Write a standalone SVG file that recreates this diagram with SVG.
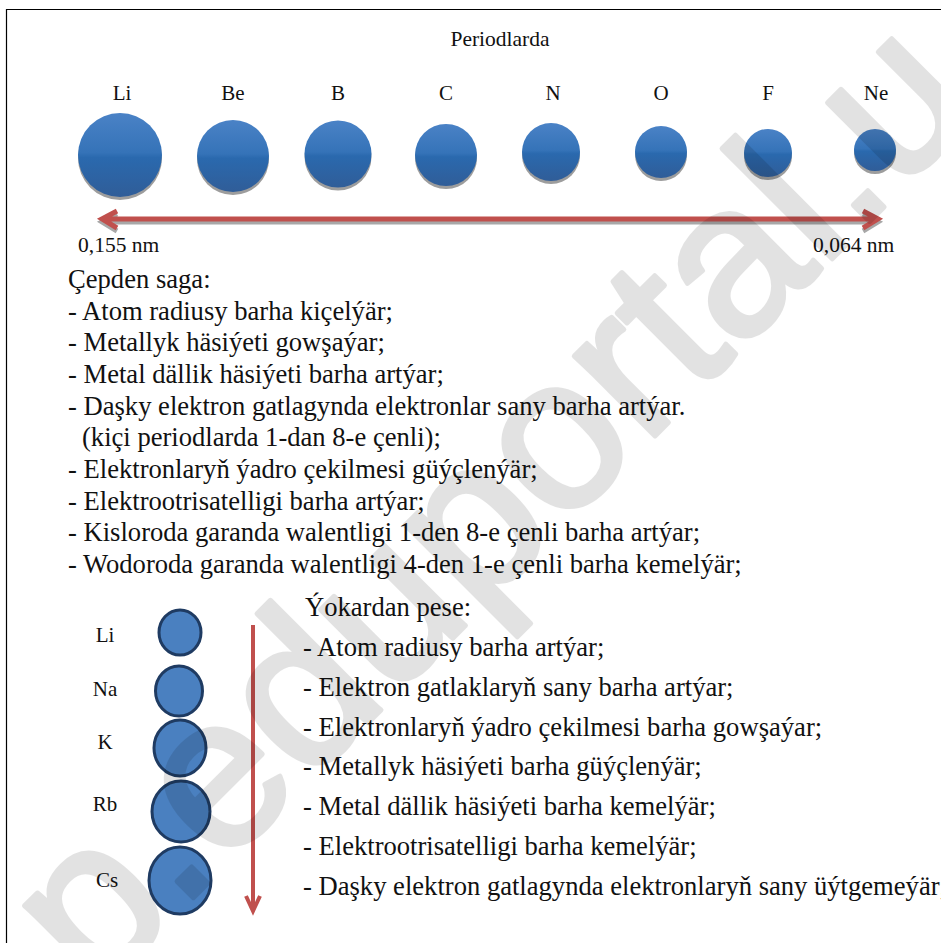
<svg xmlns="http://www.w3.org/2000/svg" width="941" height="943" viewBox="0 0 941 943">
<defs>
<linearGradient id="ball" x1="0" y1="0" x2="0" y2="1">
<stop offset="0" stop-color="#4a82c6"/>
<stop offset="0.47" stop-color="#3573b8"/>
<stop offset="0.53" stop-color="#2a69ae"/>
<stop offset="1" stop-color="#305d98"/>
</linearGradient>
<style>
.t{font-family:"Liberation Serif","Times New Roman",serif;fill:#111}
.lab{font-size:21px;text-anchor:middle}
.body{font-size:26.6px}
.ball{fill:url(#ball)}
.sh{fill:#9d9d9d}
.ring{fill:#4a80c0;stroke:#1f3b62;stroke-width:3}
.arr{fill:none;stroke:#c0504d;stroke-linecap:butt;stroke-linejoin:miter}
.arrsh{fill:none;stroke:#a8a8a8}
</style>
</defs>
<rect width="941" height="943" fill="#fff"/>
<g id="frame" fill="none" stroke="#000" stroke-width="1.2">
<path d="M6 9.5H941M6.5 9V943"/>
</g>
<text class="t" x="500" y="46" font-size="21.5" text-anchor="middle" font-family="Liberation Serif, Times New Roman, serif">Periodlarda</text>
<g id="period-row" font-family="Liberation Serif, Times New Roman, serif">
<g id="p-Li"><text class="t lab" x="122" y="100">Li</text><circle class="sh" cx="120" cy="158" r="42"/><circle class="ball" cx="120" cy="155" r="42"/></g>
<g id="p-Be"><text class="t lab" x="233" y="100">Be</text><circle class="sh" cx="233" cy="159" r="36"/><circle class="ball" cx="233" cy="156" r="36"/></g>
<g id="p-B"><text class="t lab" x="338" y="100">B</text><circle class="sh" cx="338" cy="157" r="33.5"/><circle class="ball" cx="338" cy="154" r="33.5"/></g>
<g id="p-C"><text class="t lab" x="446" y="100">C</text><circle class="sh" cx="446" cy="158" r="31"/><circle class="ball" cx="446" cy="155" r="31"/></g>
<g id="p-N"><text class="t lab" x="553" y="100">N</text><circle class="sh" cx="551" cy="155" r="29"/><circle class="ball" cx="551" cy="152" r="29"/></g>
<g id="p-O"><text class="t lab" x="661" y="100">O</text><circle class="sh" cx="661" cy="155" r="26"/><circle class="ball" cx="661" cy="152" r="26"/></g>
<g id="p-F"><text class="t lab" x="768" y="100">F</text><circle class="sh" cx="768" cy="156" r="24"/><circle class="ball" cx="768" cy="153" r="24"/></g>
<g id="p-Ne"><text class="t lab" x="876" y="100">Ne</text><circle class="sh" cx="875" cy="153" r="21"/><circle class="ball" cx="875" cy="150" r="21"/></g>
</g>
<g id="connectors">
<g id="h-arrow">
<path class="arrsh" stroke-width="5" d="M103 222H877M117 214L102 222L117 231M863 214L878 222L863 231"/>
<path class="arr" stroke-width="5" d="M103 219H877M117 211L102 219L117 228M863 211L878 219L863 228"/>
</g>
<g id="v-arrow">
<path class="arr" stroke-width="4" d="M253 625V910M246 896L253 911L260 896"/>
</g>
</g>
<text class="t" x="78" y="252" font-size="21.5" font-family="Liberation Serif, Times New Roman, serif">0,155 nm</text>
<text class="t" x="813" y="252" font-size="21.5" font-family="Liberation Serif, Times New Roman, serif">0,064 nm</text>
<g id="period-notes" class="t body" font-family="Liberation Serif, Times New Roman, serif">
<text x="68" y="288">Çepden saga:</text>
<text x="68" y="319.6">- Atom radiusy barha kiçelýär;</text>
<text x="68" y="351.3">- Metallyk häsiýeti gowşaýar;</text>
<text x="68" y="383">- Metal dällik häsiýeti barha artýar;</text>
<text x="68" y="414.6">- Daşky elektron gatlagynda elektronlar sany barha artýar.</text>
<text x="82" y="446.3">(kiçi periodlarda 1-dan 8-e çenli);</text>
<text x="68" y="478">- Elektronlaryň ýadro çekilmesi güýçlenýär;</text>
<text x="68" y="509.6">- Elektrootrisatelligi barha artýar;</text>
<text x="68" y="541.3">- Kisloroda garanda walentligi 1-den 8-e çenli barha artýar;</text>
<text x="68" y="573">- Wodoroda garanda walentligi 4-den 1-e çenli barha kemelýär;</text>
</g>
<g id="group-column" font-family="Liberation Serif, Times New Roman, serif">
<g id="g-Li"><text class="t lab" x="105" y="642">Li</text><ellipse class="ring" cx="180" cy="632.5" rx="21" ry="22.5"/></g>
<g id="g-Na"><text class="t lab" x="105" y="696">Na</text><ellipse class="ring" cx="179" cy="691" rx="23.5" ry="25"/></g>
<g id="g-K"><text class="t lab" x="105" y="749">K</text><ellipse class="ring" cx="180" cy="748" rx="26" ry="28"/></g>
<g id="g-Rb"><text class="t lab" x="105" y="811">Rb</text><ellipse class="ring" cx="181" cy="811.5" rx="29" ry="30.5"/></g>
<g id="g-Cs"><text class="t lab" x="107" y="887">Cs</text><ellipse class="ring" cx="180" cy="880.5" rx="31" ry="33.5"/></g>
</g>
<g id="group-notes" class="t body" font-family="Liberation Serif, Times New Roman, serif">
<text x="305" y="616">Ýokardan pese:</text>
<text x="303" y="656">- Atom radiusy barha artýar;</text>
<text x="303" y="695.7">- Elektron gatlaklaryň sany barha artýar;</text>
<text x="303" y="735.5">- Elektronlaryň ýadro çekilmesi barha gowşaýar;</text>
<text x="303" y="775.3">- Metallyk häsiýeti barha güýçlenýär;</text>
<text x="303" y="815">- Metal dällik häsiýeti barha kemelýär;</text>
<text x="303" y="854.8">- Elektrootrisatelligi barha kemelýär;</text>
<text x="303" y="894.5">- Daşky elektron gatlagynda elektronlaryň sany üýtgemeýär;</text>
</g>
<g id="watermark" opacity="0.11">
<text x="95" y="996" transform="rotate(-45 95 996)" font-family="Liberation Sans, Arial, sans-serif" font-size="215" fill="#000" stroke="#000" stroke-width="5" stroke-linejoin="round">p.eduportal.u</text>
</g>
</svg>
